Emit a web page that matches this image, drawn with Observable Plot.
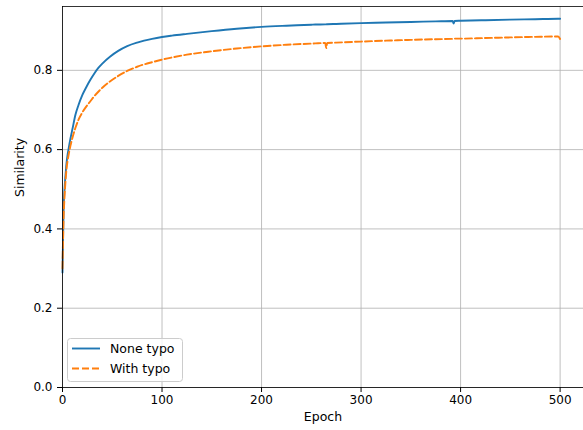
<!DOCTYPE html>
<html>
<head>
<meta charset="utf-8">
<script src="https://cdn.jsdelivr.net/npm/d3@7"></script>
<script src="https://cdn.jsdelivr.net/npm/@observablehq/plot@0.6"></script>
<style>
  body { margin: 0; background: #fff; }
  svg { display: block; }
</style>
</head>
<body>
<div id="chart"></div>
<script>
const epochs = [0,1,2,3,4,5,6,8,10,13,16,20,24,28,32,36,40,48,56,65,75,82,90,100,110,125,150,175,200,225,250,254,264,265,266,275,300,325,350,375,392,393,394,400,425,450,475,498,500];
const noneTypo = [0.29,0.44,0.50,0.535,0.565,0.585,0.60,0.628,0.652,0.688,0.712,0.738,0.758,0.776,0.792,0.806,0.817,0.835,0.849,0.861,0.870,0.875,0.8795,0.884,0.8875,0.892,0.899,0.905,0.9095,0.9125,0.915,0.9155,0.9158,0.916,0.9162,0.917,0.919,0.9205,0.922,0.9235,0.9245,0.918,0.9245,0.925,0.9265,0.928,0.929,0.930,0.930];
const withTypo = [0.30,0.42,0.48,0.52,0.55,0.57,0.585,0.61,0.63,0.655,0.675,0.694,0.709,0.722,0.735,0.746,0.756,0.7725,0.786,0.7985,0.809,0.815,0.8205,0.827,0.8325,0.8395,0.848,0.855,0.8605,0.8645,0.8675,0.868,0.869,0.856,0.869,0.870,0.8725,0.8748,0.8768,0.8785,0.8795,0.8798,0.880,0.880,0.8815,0.883,0.8845,0.8855,0.879];
const seriesNames = ["None typo", "With typo"];
const seriesColors = ["#1f77b4", "#ff7f0e"];
const xTicks = [0, 100, 200, 300, 400, 500];
const yTicks = [0, 0.2, 0.4, 0.6, 0.8];

const rowsNone = epochs.map((e, i) => ({epoch: e, sim: noneTypo[i]}));
const rowsWith = epochs.map((e, i) => ({epoch: e, sim: withTypo[i]}));

const font = "DejaVu Sans, sans-serif";
const W = 583, H = 430;
const yTop = 0.961;
const lw = 1.9;
const dash = "7,3";

const plot = Plot.plot({
  width: W,
  height: H,
  marginLeft: 62,
  marginRight: 0,
  marginTop: 6,
  marginBottom: 43,
  style: {fontFamily: font, fontSize: "12px", color: "#000", background: "#fff"},
  x: {domain: [0, 523.5]},
  y: {domain: [0, yTop]},
  marks: [
    Plot.gridX(xTicks, {stroke: "#b0b0b0", strokeOpacity: 1, strokeWidth: 0.8}),
    Plot.gridY(yTicks, {stroke: "#b0b0b0", strokeOpacity: 1, strokeWidth: 0.8}),
    Plot.line(rowsNone, {x: "epoch", y: "sim", stroke: seriesColors[0], strokeWidth: lw, curve: "monotone-x"}),
    Plot.line(rowsWith, {x: "epoch", y: "sim", stroke: seriesColors[1], strokeWidth: lw, strokeDasharray: dash, curve: "monotone-x"}),
    Plot.ruleX([0], {stroke: "#000", strokeWidth: 0.8}),
    Plot.ruleY([0], {stroke: "#000", strokeWidth: 0.8}),
    Plot.ruleY([yTop], {stroke: "#000", strokeWidth: 0.8}),
    Plot.axisX(xTicks, {tickSize: 5, tickPadding: 3, fontSize: 12, label: null, tickFormat: d3.format("d")}),
    Plot.axisY(yTicks, {tickSize: 5, tickPadding: 5, fontSize: 12, label: null, tickFormat: d3.format(".1f")}),
    Plot.text(["Epoch"], {frameAnchor: "bottom", dy: 33, fontSize: 12.5, fill: "#000"}),
    Plot.text(["Similarity"], {frameAnchor: "left", dx: -43, rotate: -90, fontSize: 12.5, fill: "#000"})
  ]
});

document.getElementById("chart").appendChild(plot);

// legend
const svg = d3.select(plot);
const lg = svg.append("g").attr("font-family", font).attr("font-size", 12.5).attr("text-anchor", "start");
lg.append("rect").attr("x", 67.5).attr("y", 338.5).attr("width", 115).attr("height", 43)
  .attr("rx", 3).attr("fill", "#fff").attr("fill-opacity", 0.8).attr("stroke", "#cccccc").attr("stroke-width", 1);
seriesNames.forEach((name, i) => {
  const yy = 348.5 + i * 20;
  lg.append("line").attr("x1", 72).attr("x2", 100).attr("y1", yy).attr("y2", yy)
    .attr("stroke", seriesColors[i]).attr("stroke-width", lw)
    .attr("stroke-dasharray", i === 1 ? dash : null);
  lg.append("text").attr("x", 110).attr("y", yy).attr("dy", "0.35em").attr("fill", "#000").text(name);
});
</script>
</body>
</html>
